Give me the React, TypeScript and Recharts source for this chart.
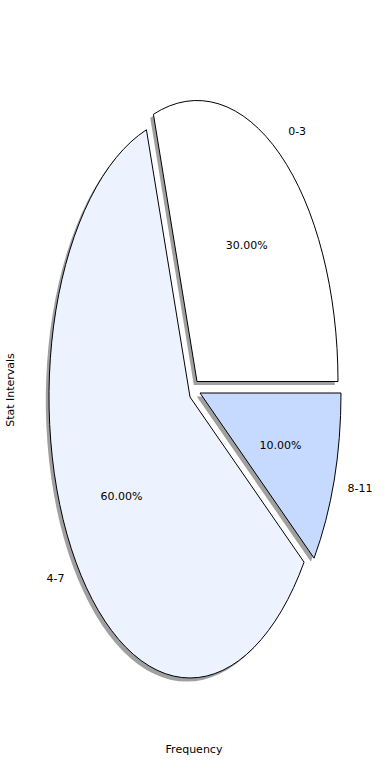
import React from "react";
import { Pie, PieChart } from "recharts";

const intervals = ["0-3", "4-7", "8-11"];
const frequency = [3, 6, 1];
const sliceColors = ["#ffffff", "#ecf2fe", "#c6d9fe"];

// wedge shift (px) used like matplotlib's explode
const explodeShift: Record<string, [number, number]> = {
  "0-3": [7, -15.5],
  "4-7": [0, 0],
  "8-11": [10, -4],
};

const data = intervals.map((name, i) => ({ name, value: frequency[i] }));

const RX = 141;
const RY = 281;
const RAD = Math.PI / 180;

const pt = (cx: number, cy: number, a: number, k = 1) => [
  cx + RX * k * Math.cos(a * RAD),
  cy - RY * k * Math.sin(a * RAD),
];

const wedgePath = (cx: number, cy: number, start: number, end: number) => {
  const [x0, y0] = pt(cx, cy, start);
  const [x1, y1] = pt(cx, cy, end);
  const large = end - start > 180 ? 1 : 0;
  return `M${cx},${cy} L${x0},${y0} A${RX},${RY} 0 ${large} 0 ${x1},${y1} Z`;
};

const Wedge = (props: any) => {
  const { cx, cy, startAngle, endAngle, payload, fill } = props;
  const [dx, dy] = explodeShift[payload.name] || [0, 0];
  return (
    <path
      d={wedgePath(cx + dx, cy + dy, startAngle, endAngle)}
      fill={fill}
      stroke="#000"
      strokeWidth={1}
    />
  );
};

const ShadowWedge = (props: any) => {
  const { cx, cy, startAngle, endAngle, payload } = props;
  const [dx, dy] = explodeShift[payload.name] || [0, 0];
  return (
    <path
      d={wedgePath(cx + dx - 3.2, cy + dy + 3.6, startAngle, endAngle)}
      fill="#a0a0a0"
      stroke="none"
    />
  );
};

const renderLabel = (props: any) => {
  const { cx, cy, midAngle, percent, name } = props;
  const [dx, dy] = explodeShift[name] || [0, 0];
  const [lx, ly] = pt(cx + dx, cy + dy, midAngle, 1.1);
  const [px, py] = pt(cx + dx, cy + dy, midAngle, 0.6);
  const right = Math.cos(midAngle * RAD) > 0;
  return (
    <g>
      <text
        x={lx}
        y={ly}
        textAnchor={right ? "start" : "end"}
        dominantBaseline="central"
        fontSize={11}
        fill="#000"
      >
        {name}
      </text>
      <text
        x={px}
        y={py}
        textAnchor="middle"
        dominantBaseline="central"
        fontSize={11}
        fill="#000"
      >
        {(percent * 100).toFixed(2)}%
      </text>
    </g>
  );
};

export default function App() {
  return (
    <div
      style={{
        position: "absolute",
        left: 0,
        top: 0,
        width: 390,
        height: 780,
        background: "#fff",
        fontFamily: "'DejaVu Sans', sans-serif",
      }}
    >
      <PieChart
        width={390}
        height={780}
        margin={{ top: 0, right: 0, bottom: 0, left: 0 }}
      >
        <Pie
          data={data}
          dataKey="value"
          nameKey="name"
          cx={190}
          cy={397}
          outerRadius={141}
          startAngle={0}
          endAngle={360}
          shape={ShadowWedge}
          label={false}
          labelLine={false}
          isAnimationActive={false}
        />
        <Pie
          data={data.map((d, i) => ({ ...d, fill: sliceColors[i] }))}
          dataKey="value"
          nameKey="name"
          cx={190}
          cy={397}
          outerRadius={141}
          startAngle={0}
          endAngle={360}
          shape={Wedge}
          label={renderLabel}
          labelLine={false}
          isAnimationActive={false}
        />
      </PieChart>
      <div
        style={{
          position: "absolute",
          left: 0,
          width: 390,
          top: 743,
          textAlign: "center",
          fontSize: 11,
        }}
      >
        <span style={{ position: "relative", left: -1 }}>Frequency</span>
      </div>
      <div
        style={{
          position: "absolute",
          left: 10,
          top: 390,
          fontSize: 11,
          whiteSpace: "nowrap",
          transform: "translate(-50%, -50%) rotate(-90deg)",
        }}
      >
        Stat Intervals
      </div>
    </div>
  );
}
